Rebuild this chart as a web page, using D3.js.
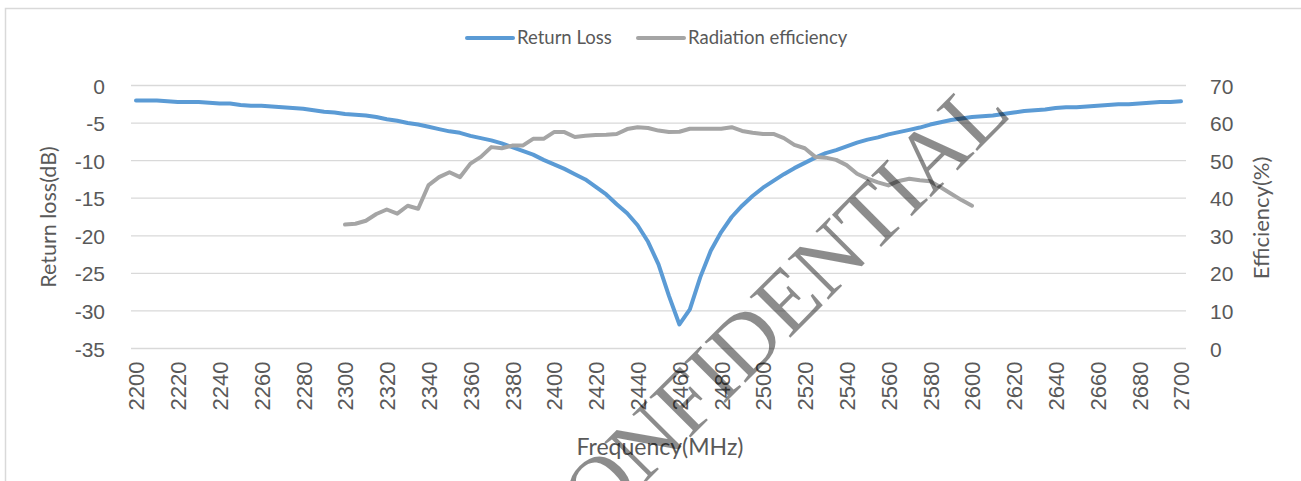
<!DOCTYPE html>
<html>
<head>
<meta charset="utf-8">
<script src="https://cdn.jsdelivr.net/npm/d3@7"></script>
<style>
  body { margin: 0; background: #fff; }
  svg { display: block; font-family: Lato, "Open Sans", sans-serif; }
  .tick text { fill: #595959; }
</style>
</head>
<body>
<div id="chart"></div>
<script>
// frequencies (MHz) for the return loss sweep
const rlFreq = d3.range(2200, 2701, 5);
// return loss (dB)
const returnLoss = [
  -2.0, -2.0, -2.0, -2.1, -2.2, -2.2, -2.2, -2.3, -2.4, -2.4,
  -2.6, -2.7, -2.7, -2.8, -2.9, -3.0, -3.1, -3.3, -3.5, -3.6,
  -3.8, -3.9, -4.0, -4.2, -4.5, -4.7, -5.0, -5.2, -5.5, -5.8,
  -6.1, -6.3, -6.7, -7.0, -7.3, -7.7, -8.2, -8.7, -9.2, -9.9,
  -10.5, -11.1, -11.8, -12.5, -13.5, -14.5, -15.8, -17.0, -18.6, -20.8,
  -23.8, -28.0, -31.8, -29.8, -25.5, -22.0, -19.5, -17.5, -16.0, -14.7,
  -13.6, -12.7, -11.8, -11.0, -10.3, -9.6, -9.0, -8.6, -8.1, -7.6,
  -7.2, -6.9, -6.5, -6.2, -5.9, -5.6, -5.2, -4.9, -4.6, -4.4,
  -4.2, -4.1, -4.0, -3.8, -3.6, -3.4, -3.3, -3.2, -3.0, -2.9,
  -2.9, -2.8, -2.7, -2.6, -2.5, -2.5, -2.4, -2.3, -2.2, -2.2,
  -2.1
];

// frequencies (MHz) for the efficiency measurement
const effFreq = d3.range(2300, 2601, 5);
// radiation efficiency (%)
const efficiency = [
  33.0, 33.2, 34.0, 35.8, 37.0, 35.9, 38.0, 37.2, 43.5, 45.6,
  46.9, 45.6, 49.2, 51.0, 53.6, 53.3, 54.0, 54.0, 55.8, 55.8,
  57.6, 57.6, 56.3, 56.6, 56.8, 56.9, 57.1, 58.4, 58.9, 58.7,
  58.0, 57.6, 57.7, 58.5, 58.5, 58.5, 58.5, 58.9, 57.9, 57.4,
  57.1, 57.1, 56.0, 54.2, 53.3, 51.0, 50.8, 50.2, 48.8, 46.5,
  45.2, 44.2, 43.4, 44.6, 45.2, 44.8, 44.5, 42.9, 41.2, 39.5,
  38.0
];

const xTicks = d3.range(2200, 2701, 20);
const leftTicks = [0, -5, -10, -15, -20, -25, -30, -35];
const rightTicks = [70, 60, 50, 40, 30, 20, 10, 0];
const seriesNames = ["Return Loss", "Radiation efficiency"];

var width = 1301, height = 481;
var plot = {left: 131, right: 1186, top: 85.5, bottom: 348.5};

var svg = d3.select("#chart").append("svg")
    .attr("width", width)
    .attr("height", height);

// outer chart border
svg.append("rect")
    .attr("x", 5.5).attr("y", 8.5)
    .attr("width", 1310).attr("height", 490)
    .attr("fill", "none")
    .attr("stroke", "#d9d9d9")
    .attr("stroke-width", 1.5);

var x = d3.scaleLinear().domain([2200, 2700]).range([136, 1181]);
var yL = d3.scaleLinear().domain([-35, 0]).range([plot.bottom, plot.top]);
var yR = d3.scaleLinear().domain([0, 70]).range([plot.bottom, plot.top]);

// horizontal gridlines
svg.append("g").selectAll("line")
    .data(leftTicks).enter().append("line")
    .attr("x1", plot.left).attr("x2", plot.right)
    .attr("y1", d => yL(d)).attr("y2", d => yL(d))
    .attr("stroke", "#d9d9d9")
    .attr("stroke-width", 1.3);

// left axis (plain hyphen for negatives, like the original)
var leftAxis = svg.append("g")
    .attr("transform", `translate(${plot.left}, 0)`)
    .call(d3.axisLeft(yL).tickValues(leftTicks).tickSize(0).tickPadding(26).tickFormat(d => String(d)));
leftAxis.select(".domain").remove();
leftAxis.selectAll("text").style("font-size", "21px").attr("dy", "0.36em");

// right axis
var rightAxis = svg.append("g")
    .attr("transform", `translate(${plot.right}, 0)`)
    .call(d3.axisRight(yR).tickValues(rightTicks).tickSize(0).tickPadding(24));
rightAxis.select(".domain").remove();
rightAxis.selectAll("text").style("font-size", "21px").attr("dy", "0.36em");

// bottom axis, labels rotated
var bottomAxis = svg.append("g")
    .attr("transform", `translate(0, ${plot.bottom})`)
    .call(d3.axisBottom(x).tickValues(xTicks).tickSize(0).tickFormat(d3.format("d")));
bottomAxis.select(".domain").remove();
bottomAxis.selectAll("text")
    .style("font-size", "22px")
    .attr("text-anchor", "end")
    .attr("transform", "rotate(-90)")
    .attr("x", -13)
    .attr("y", 0)
    .attr("dy", "0.36em");

// axis titles
svg.append("text")
    .attr("transform", "translate(56, 217) rotate(-90)")
    .attr("text-anchor", "middle")
    .attr("fill", "#595959")
    .style("font-size", "21.5px")
    .text("Return loss(dB)");

svg.append("text")
    .attr("transform", "translate(1269, 218) rotate(-90)")
    .attr("text-anchor", "middle")
    .attr("fill", "#595959")
    .style("font-size", "22px")
    .text("Efficiency(%)");

svg.append("text")
    .attr("x", 660).attr("y", 455)
    .attr("text-anchor", "middle")
    .attr("fill", "#595959")
    .style("font-size", "23px")
    .text("Frequency(MHz)");

// lines
var rlLine = d3.line()
    .x((d, i) => x(rlFreq[i]))
    .y(d => yL(d));
var effLine = d3.line()
    .x((d, i) => x(effFreq[i]))
    .y(d => yR(d));

svg.append("path")
    .datum(returnLoss)
    .attr("d", rlLine)
    .attr("fill", "none")
    .attr("stroke", "#5b9bd5")
    .attr("stroke-width", 4)
    .attr("stroke-linejoin", "round")
    .attr("stroke-linecap", "round");

svg.append("path")
    .datum(efficiency)
    .attr("d", effLine)
    .attr("fill", "none")
    .attr("stroke", "#a5a5a5")
    .attr("stroke-width", 4)
    .attr("stroke-linejoin", "round")
    .attr("stroke-linecap", "round");

// legend
var legend = svg.append("g");
var legendPos = [467, 638];
var legendColors = ["#5b9bd5", "#a5a5a5"];
seriesNames.forEach((name, i) => {
    legend.append("line")
        .attr("x1", legendPos[i]).attr("x2", legendPos[i] + 46)
        .attr("y1", 38).attr("y2", 38)
        .attr("stroke", legendColors[i])
        .attr("stroke-width", 4)
        .attr("stroke-linecap", "round");
    legend.append("text")
        .attr("x", legendPos[i] + 50).attr("y", 44)
        .attr("fill", "#595959")
        .style("font-size", "18.5px")
        .text(name);
});

// watermark
svg.append("text")
    .attr("transform", "translate(785, 343) rotate(-45)")
    .attr("text-anchor", "middle")
    .attr("fill", "#000")
    .attr("fill-opacity", 0.45)
    .style("font-family", "'Liberation Serif', serif")
    .style("font-size", "88px")
    .text("CONFIDENTIAL");
</script>
</body>
</html>
